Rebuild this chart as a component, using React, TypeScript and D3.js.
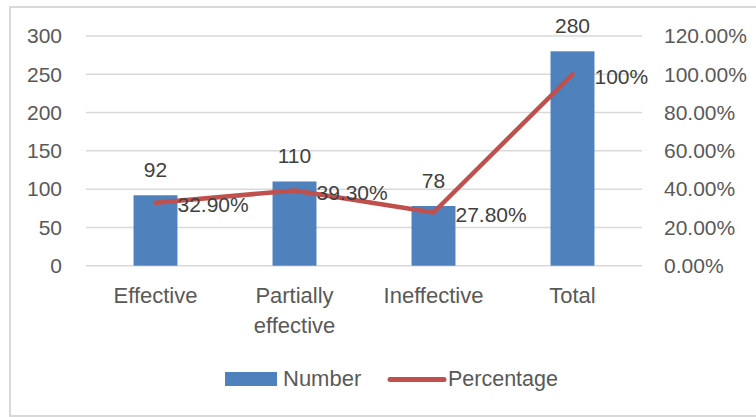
import * as React from 'react';
import * as d3 from 'd3';

const categories = [['Effective'], ['Partially', 'effective'], ['Ineffective'], ['Total']];
const numbers = [92, 110, 78, 280];
const percentages = [32.9, 39.3, 27.8, 100];
const percentLabels = ['32.90%', '39.30%', '27.80%', '100%'];
const leftTicks = [0, 50, 100, 150, 200, 250, 300];
const rightTicks = [0, 20, 40, 60, 80, 100, 120];

const W = 756;
const H = 417;
const FONT = "'Liberation Sans', Arial, sans-serif";
const TEXT = '#595959';
const BAR = '#4F81BD';
const LINE = '#C0504D';

export default function App() {
  const plot = { left: 86, right: 642, top: 36, bottom: 265.7 };

  const x = d3.scaleBand<number>()
    .domain(d3.range(categories.length))
    .range([plot.left, plot.right])
    .paddingInner(0.684)
    .paddingOuter(0.342);

  const yL = d3.scaleLinear().domain([0, 300]).range([plot.bottom, plot.top]);
  const yR = d3.scaleLinear().domain([0, 120]).range([plot.bottom, plot.top]);
  const cx = (i: number) => x(i)! + x.bandwidth() / 2;

  const line = d3.line<number>()
    .x((_, i) => cx(i))
    .y((d) => yR(d));

  return (
    <svg width={W} height={H} style={{ position: 'absolute', left: 0, top: 0 }} fontFamily={FONT}>
      <rect x={0} y={0} width={W} height={H} fill="#fff" />
      <rect x={10} y={7} width={W + 10} height={409} fill="none" stroke="#d9d9d9" strokeWidth={2} />

      {leftTicks.map((t) => (
        <g key={t}>
          <line x1={plot.left} x2={plot.right} y1={yL(t)} y2={yL(t)} stroke="#d9d9d9" strokeWidth={1.5} />
          <text x={62} y={yL(t)} dy="0.35em" textAnchor="end" fontSize={21} fill={TEXT}>{t}</text>
        </g>
      ))}
      {rightTicks.map((t) => (
        <text key={t} x={664} y={yR(t)} dy="0.35em" fontSize={21} fill={TEXT}>{t.toFixed(2)}%</text>
      ))}

      {numbers.map((v, i) => (
        <g key={i}>
          <rect x={x(i)} y={yL(v)} width={x.bandwidth()} height={plot.bottom - yL(v)} fill={BAR} />
          <text x={cx(i)} y={yL(v) - 18} textAnchor="middle" fontSize={21} fill="#404040">{v}</text>
        </g>
      ))}

      <path d={line(percentages) || ''} fill="none" stroke={LINE} strokeWidth={4.5} strokeLinecap="round" strokeLinejoin="round" />
      {percentages.map((p, i) => (
        <text key={i} x={cx(i) + 22} y={yR(p) + 2} dy="0.35em" fontSize={21} fill="#404040">{percentLabels[i]}</text>
      ))}

      {categories.map((lines, i) => (
        <text key={i} x={cx(i)} y={303} textAnchor="middle" fontSize={22} fill={TEXT}>
          {lines.map((l, j) => (
            <tspan key={j} x={cx(i)} dy={j === 0 ? 0 : 30}>{l}</tspan>
          ))}
        </text>
      ))}

      <rect x={225} y={372} width={52} height={14} fill={BAR} />
      <text x={283} y={386} fontSize={22} fill={TEXT}>Number</text>
      <line x1={390} x2={444} y1={379.5} y2={379.5} stroke={LINE} strokeWidth={5} strokeLinecap="round" />
      <text x={448} y={386} fontSize={21.5} fill={TEXT}>Percentage</text>
    </svg>
  );
}
